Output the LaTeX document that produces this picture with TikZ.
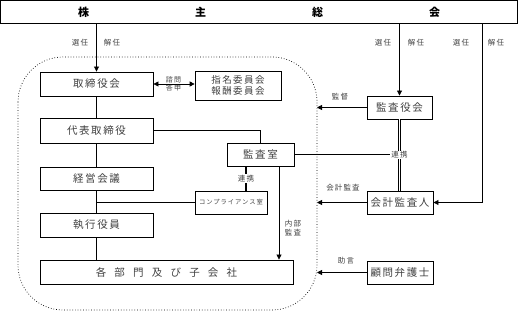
\documentclass[tikz,border=0pt]{standalone}
\usepackage{fontspec}
\newfontfamily\jp[LetterSpace=15]{Noto Sans CJK JP}
\usetikzlibrary{arrows.meta}
\begin{document}
\begin{tikzpicture}[x=1pt,y=-1pt,
 box/.style={draw, line width=0.9pt, inner sep=0pt, font=\jp\fontsize{10.5}{12}\selectfont, text=black!75},
 lbl/.style={font=\jp\fontsize{7.5}{9}\selectfont, inner sep=1pt, text=black!75},
 arr/.style={-{Triangle[length=5pt,width=5pt]}, line width=0.8pt},
 ln/.style={line width=0.8pt}]
\useasboundingbox (0,0) rectangle (518,312);
% dotted frame
\draw[dotted, line width=0.7pt, rounded corners=45pt] (18,57) rectangle (317,310);
\coordinate (fr) at (317,0);
% top box
\node[box, line width=1pt, text=black, minimum width=517pt, minimum height=23.5pt, font=\jp\bfseries\fontsize{11}{12}\selectfont] (top) at (259,12.25) {株\hspace{106pt}主\hspace{106pt}総\hspace{106pt}会};
% left column
\node[box, minimum width=113pt, minimum height=24pt] (tori) at (96.5,84) {取締役会};
\node[box, minimum width=86pt, minimum height=29pt, line width=0.7pt, font=\jp\fontsize{9.5}{11}\selectfont, align=center] (shimei) at (238,85.5) {指名委員会\\報酬委員会};
\node[box, minimum width=113pt, minimum height=25pt] (daihyo) at (96.5,130.5) {代表取締役};
\node[box, minimum width=113pt, minimum height=23pt] (keiei) at (96.5,178.5) {経営会議};
\node[box, minimum width=113pt, minimum height=24pt] (shikko) at (96.5,225) {執行役員};
\node[box, minimum width=253pt, minimum height=24pt] (kaku) at (166.5,272) {各\hspace{8.2pt}部\hspace{8.2pt}門\hspace{8.2pt}及\hspace{8.2pt}び\hspace{8.2pt}子\hspace{8.2pt}会\hspace{8.2pt}社};
\node[box, minimum width=67pt, minimum height=23pt] (shitsu) at (260.5,154.5) {監査室};
\node[box, minimum width=72pt, minimum height=23pt, font=\jp\fontsize{6.3}{7}\selectfont] (comp) at (231,202.5) {コンプライアンス室};
% right column
\node[box, minimum width=65pt, minimum height=23pt] (kyaku) at (399.5,107.5) {監査役会};
\node[box, minimum width=66pt, minimum height=23pt] (kaikei) at (400,202.5) {会計監査人};
\node[box, minimum width=66pt, minimum height=23pt] (komon) at (400,272.5) {顧問弁護士};
% labels
\node[lbl] (l1) at (80,43) {選任};
\node[lbl] (l2) at (112,43) {解任};
\node[lbl] (l3) at (383,43) {選任};
\node[lbl] (l4) at (416,43) {解任};
\node[lbl] (l5) at (461,43) {選任};
\node[lbl] (l6) at (496,43) {解任};
\node[lbl, align=center, font=\jp\fontsize{7}{8.5}\selectfont] (l7) at (173.5,84) {諮問\\答申};
\node[lbl] (l8) at (340,97) {監督};
\node[lbl] (l9) at (343,188) {会計監査};
\node[lbl] (l10) at (346,261) {助言};
\node[lbl, align=center] (l11) at (293,228) {内部\\監査};
% connectors
\draw[arr] (tori.north |- top.south) -- (tori.north);
\draw[ln] (tori.south) -- (daihyo.north);
\draw[ln] (daihyo.south) -- (keiei.north);
\draw[ln] (keiei.south) -- (shikko.north);
\draw[ln] (shikko.south) -- (shikko.south |- kaku.north);
\draw[ln] (keiei.south |- comp.west) -- (comp.west);
\draw[ln] (daihyo.east) -| (shitsu.north);
\draw[{Triangle[length=5pt,width=5pt]}-{Triangle[length=5pt,width=5pt]}, line width=0.8pt] (tori.east) -- (tori.east -| shimei.west);
\draw[arr] ([xshift=18.5pt]shitsu.south) -- ([xshift=18.5pt]shitsu.south |- kaku.north);
\draw[line width=1.6pt] ([xshift=-14.5pt]shitsu.south) -- ([xshift=-14.5pt]shitsu.south |- comp.north) node[midway, lbl, fill=white] (rk1) {連携};
\draw[arr] (kyaku.north |- top.south) -- (kyaku.north);
\coordinate (rt) at (482,24);
\draw[arr] (rt) |- (kaikei.east);
\draw[arr] (kyaku.west) -- (kyaku.west -| fr);
\draw[arr] (kaikei.west) -- (kaikei.west -| fr);
\draw[arr] (komon.west) -- (komon.west -| fr);
\draw[double, double distance=1.4pt, line width=0.8pt] (kyaku.south) -- (kyaku.south |- kaikei.north) node[midway, lbl, fill=white] (rk2) {連携};
\draw[ln] (shitsu.east) -- (shitsu.east -| rk2.west);
\end{tikzpicture}
\end{document}
